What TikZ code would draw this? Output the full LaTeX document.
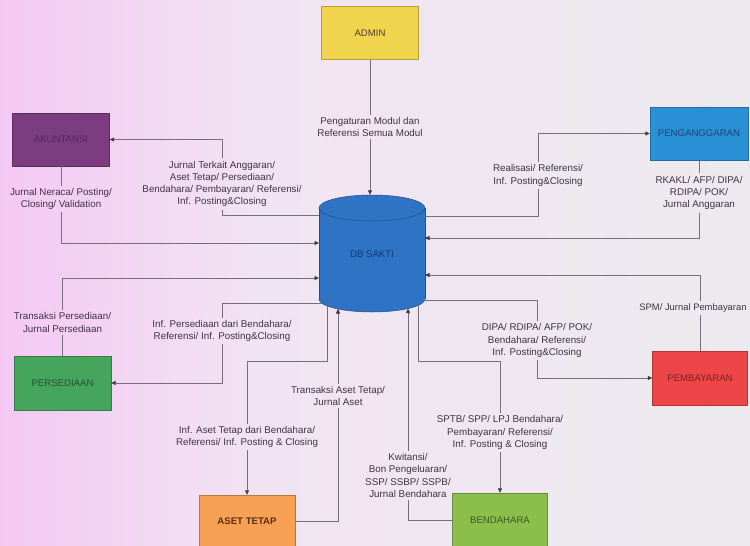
\documentclass[tikz,border=0pt]{standalone}
\usepackage{fontspec}
\setmainfont{Liberation Sans}
\usetikzlibrary{arrows.meta,calc}

\definecolor{bgL}{RGB}{244,200,244}
\definecolor{bgM}{RGB}{241,228,242}
\definecolor{bgR}{RGB}{236,234,238}
\definecolor{lineC}{RGB}{118,110,122}
\definecolor{tipC}{RGB}{60,58,64}
\definecolor{labelC}{RGB}{64,50,70}
\definecolor{cAdmin}{RGB}{240,212,78}
\definecolor{cAkun}{RGB}{124,60,128}
\definecolor{cPeng}{RGB}{42,144,214}
\definecolor{cDB}{RGB}{46,115,196}
\definecolor{cPers}{RGB}{70,165,92}
\definecolor{cPemb}{RGB}{238,70,72}
\definecolor{cAset}{RGB}{245,160,82}
\definecolor{cBend}{RGB}{140,190,76}
\definecolor{tAdmin}{RGB}{80,62,38}
\definecolor{tAkun}{RGB}{84,40,94}
\definecolor{tPeng}{RGB}{28,68,118}
\definecolor{tDB}{RGB}{26,54,112}
\definecolor{tPers}{RGB}{36,84,50}
\definecolor{tPemb}{RGB}{122,34,38}
\definecolor{tAset}{RGB}{88,48,20}
\definecolor{tBend}{RGB}{58,88,38}

\begin{document}
\begin{tikzpicture}[x=1pt,y=-1pt,
  box/.style={draw=#1!75!black, fill=#1, line width=0.4pt,
    minimum width=97pt, minimum height=53pt, inner sep=0pt,
    font=\fontsize{9.6}{11}\selectfont},
  flow/.style={draw=lineC, line width=0.6pt},
  arr/.style={flow, -{Triangle[length=4.5pt,width=4pt,color=tipC]}},
  lbl/.style={align=center, text=labelC, inner sep=2.5pt,
    font=\fontsize{9.8}{12.3}\selectfont},
  dbfill/.style={fill=cDB, draw=cDB!70!black, line width=0.5pt}]

% page background
\useasboundingbox (0,0) rectangle (750,546);
\fill[bgR] (0,0) rectangle (750,546);
\shade[left color=bgL, right color=bgM] (0,0) rectangle (260,546);
\shade[left color=bgM, right color=bgR] (260,0) rectangle (750,546);

% database cylinder
\coordinate (dbc) at (372,253.5);
\filldraw[dbfill] ($(dbc)+(0,45.5)$) ellipse [x radius=53pt, y radius=13pt];
\fill[cDB] ($(dbc)+(-53,-45.5)$) rectangle ($(dbc)+(53,45.5)$);
\draw[cDB!70!black, line width=0.5pt] ($(dbc)+(-53,-45.5)$) -- ($(dbc)+(-53,45.5)$);
\draw[cDB!70!black, line width=0.5pt] ($(dbc)+(53,-45.5)$) -- ($(dbc)+(53,45.5)$);
\filldraw[dbfill] ($(dbc)+(0,-45.5)$) ellipse [x radius=53pt, y radius=13pt];
\node[inner sep=0pt, minimum width=106pt, minimum height=117pt, text=tDB,
  font=\fontsize{9.6}{11}\selectfont] (db) at (dbc) {\raisebox{-9pt}{DB SAKTI}};

% attachment points on the cylinder
\coordinate (dbL1) at ($(dbc)+(-53,-38.5)$);
\coordinate (dbL2) at ($(dbc)+(-53,-10.5)$);
\coordinate (dbL3) at ($(dbc)+(-53,24.5)$);
\coordinate (dbL4) at ($(dbc)+(-50,49.5)$);
\coordinate (dbR1) at ($(dbc)+(53,-37.5)$);
\coordinate (dbR2) at ($(dbc)+(53,-15.5)$);
\coordinate (dbR3) at ($(dbc)+(53,21.5)$);
\coordinate (dbR4) at ($(dbc)+(52,46.5)$);
\coordinate (dbB1) at ($(dbc)+(-45,52.5)$);
\coordinate (dbB2) at ($(dbc)+(-34,55.5)$);
\coordinate (dbB3) at ($(dbc)+(36,55)$);
\coordinate (dbB4) at ($(dbc)+(46,52)$);

% module boxes
\node[box=cAdmin, text=tAdmin] (admin) at (370,33) {ADMIN};
\node[box=cAkun, text=tAkun] (akun) at (61,139.5) {AKUNTANSI};
\node[box=cPeng, text=tPeng, minimum width=98pt] (peng) at (699,133.5) {PENGANGGARAN};
\node[box=cPers, text=tPers, minimum height=54pt] (persed) at (62.5,383) {PERSEDIAAN};
\node[box=cPemb, text=tPemb, minimum width=95pt, minimum height=54pt] (pemb) at (700,378) {PEMBAYARAN};
\node[box=cAset, text=tAset, minimum width=96pt, minimum height=52pt,
  font=\fontsize{9.6}{11}\selectfont\bfseries] (aset) at (247,521) {ASET TETAP};
\node[box=cBend, text=tBend, minimum width=95pt, minimum height=54pt] (bend) at (500,520) {BENDAHARA};

% flow labels
\node[lbl] (l1) at (370,127) {Pengaturan Modul dan\\Referensi Semua Modul};
\node[lbl] (l2) at (222,184) {Jurnal Terkait Anggaran/\\Aset Tetap/ Persediaan/\\Bendahara/ Pembayaran/ Referensi/\\Inf. Posting\&Closing};
\node[lbl] (l3) at (61,199) {Jurnal Neraca/ Posting/\\Closing/ Validation};
\node[lbl] (l4) at (538,175.5) {Realisasi/ Referensi/\\Inf. Posting\&Closing};
\node[lbl] (l5) at (699,193) {RKAKL/ AFP/ DIPA/\\RDIPA/ POK/\\Jurnal Anggaran};
\node[lbl] (l6) at (62.5,322.5) {Transaksi Persediaan/\\Jurnal Persediaan};
\node[lbl] (l7) at (222,331) {Inf. Persediaan dari Bendahara/\\Referensi/ Inf. Posting\&Closing};
\node[lbl] (l8) at (247,437) {Inf. Aset Tetap dari Bendahara/\\Referensi/ Inf. Posting \& Closing};
\node[lbl] (l9) at (338,396) {Transaksi Aset Tetap/\\Jurnal Aset};
\node[lbl] (l10) at (408,475.5) {Kwitansi/\\Bon Pengeluaran/\\SSP/ SSBP/ SSPB/\\Jurnal Bendahara};
\node[lbl] (l11) at (500,432.5) {SPTB/ SPP/ LPJ Bendahara/\\Pembayaran/ Referensi/\\Inf. Posting \& Closing};
\node[lbl, font=\fontsize{9.4}{12.3}\selectfont] (l12) at (693,308) {SPM/ Jurnal Pembayaran};
\node[lbl] (l13) at (537,340.5) {DIPA/ RDIPA/ AFP/ POK/\\Bendahara/ Referensi/\\Inf. Posting\&Closing};

% connectors
\draw[flow] (admin) -- (l1);
\draw[arr] (l1.south) -- (l1.south |- db.north);

\draw[flow] (dbL1) -| (l2.south);
\draw[arr] (l2.north) |- (akun);
\draw[flow] (akun) -- (l3);
\draw[arr] (l3.south) |- (dbL2);

\draw[flow] (persed) -- (l6);
\draw[arr] (l6.north) |- (dbL3);
\draw[flow] (dbL4) -| (l7.north);
\draw[arr] (l7.south) |- (persed);

\draw[flow] (dbR1) -| (l4.south);
\draw[arr] (l4.north) |- (peng);
\draw[flow] (peng) -- (l5);
\draw[arr] (l5.south) |- (dbR2);

\draw[flow] (pemb.north) -- (pemb.north |- l12.south);
\draw[arr] (pemb.north |- l12.north) |- (dbR3);
\draw[flow] (dbR4) -| (l13.north);
\draw[arr] (l13.south) |- (pemb);

\draw[flow] (dbB1) -- ++(0,55) -| (l8.north);
\draw[arr] (l8.south) -- (l8.south |- aset.north);
\draw[flow] (aset.east) -| (l9.south);
\draw[arr] (l9.north) -- (dbB2);

\draw[flow] (bend.west) -| (l10.south);
\draw[arr] (l10.north) -- (dbB3);
\draw[flow] (dbB4) -- ++(0,56) -| (l11.north);
\draw[arr] (l11.south) -- (l11.south |- bend.north);
\end{tikzpicture}
\end{document}
